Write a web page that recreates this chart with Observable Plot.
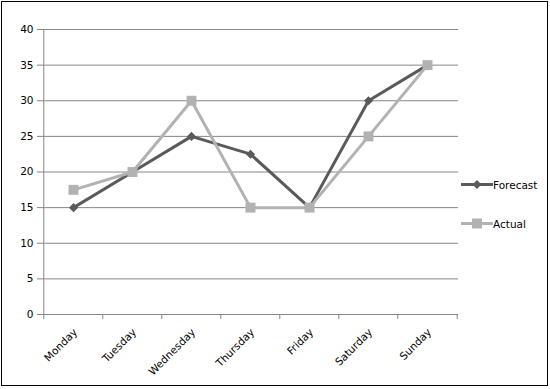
<!DOCTYPE html>
<html>
<head>
<meta charset="utf-8">
<script src="https://cdn.jsdelivr.net/npm/d3@7"></script>
<script src="https://cdn.jsdelivr.net/npm/@observablehq/plot@0.6"></script>
<style>
  html, body { margin: 0; padding: 0; background: #fff; }
  #wrap { position: relative; width: 550px; height: 389px; font-family: "DejaVu Sans", Verdana, sans-serif; -webkit-font-smoothing: antialiased; }
  #frame { position: absolute; left: 1px; top: 1px; width: 547px; height: 385px; box-sizing: border-box; border: 1px solid #000; pointer-events: none; }
  #chart { position: absolute; left: 0; top: 0; }
  .legend { position: absolute; left: 461px; font-size: 10.5px; color: #000; }
  .legend .item { position: absolute; left: 0; display: flex; align-items: center; white-space: nowrap; }
  .legend svg { display: block; margin-right: 0px; }
</style>
</head>
<body>
<div id="wrap">
  <div id="chart"></div>
  <div id="legend" class="legend"></div>
  <div id="frame"></div>
</div>
<script>
const days = ["Monday", "Tuesday", "Wednesday", "Thursday", "Friday", "Saturday", "Sunday"];
const forecast = [15, 20, 25, 22.5, 15, 30, 35];
const actual = [17.5, 20, 30, 15, 15, 25, 35];
const yTicks = [0, 5, 10, 15, 20, 25, 30, 35, 40];
const seriesNames = ["Forecast", "Actual"];
const seriesColors = ["#5a5a5a", "#b2b2b2"];

const forecastData = days.map((d, i) => ({day: d, series: "Forecast", value: forecast[i]}));
const actualData = days.map((d, i) => ({day: d, series: "Actual", value: actual[i]}));

const W = 550, H = 389, mL = 42, mR = 92, mT = 29, mB = 75;
const step = (W - mL - mR) / days.length;
const axisGray = "#868686";

const chart = Plot.plot({
  width: W, height: H,
  marginLeft: mL, marginRight: mR, marginTop: mT, marginBottom: mB,
  style: {fontFamily: "DejaVu Sans, Verdana, sans-serif", fontSize: "10.5px", color: "#000", background: "transparent", overflow: "visible"},
  x: {type: "point", domain: days, padding: 0.5, label: null},
  y: {domain: [0, 40], ticks: yTicks, label: null},
  color: {domain: seriesNames, range: seriesColors},
  marks: [
    Plot.gridY(yTicks, {stroke: axisGray, strokeOpacity: 1}),
    Plot.ruleY([0], {stroke: axisGray}),
    Plot.ruleX([days[0]], {dx: -step / 2, stroke: axisGray}),
    Plot.ruleX(days, {y1: 0, y2: 0, insetBottom: -5, dx: -step / 2, stroke: axisGray}),
    Plot.ruleX([days[days.length - 1]], {y1: 0, y2: 0, insetBottom: -5, dx: step / 2, stroke: axisGray}),
    Plot.axisY(yTicks, {tickSize: 5, tickPadding: 4, stroke: axisGray, label: null}),
    Plot.axisX({tickSize: 0, tickRotate: -45, tickPadding: 16, dx: 2, label: null}),
    Plot.line(forecastData, {x: "day", y: "value", stroke: "series", strokeWidth: 3}),
    Plot.dot(forecastData, {x: "day", y: "value", symbol: "diamond2", r: 4.1, fill: "series", stroke: "none"}),
    Plot.line(actualData, {x: "day", y: "value", stroke: "series", strokeWidth: 3}),
    Plot.dot(actualData, {x: "day", y: "value", symbol: "square", r: 5.6, fill: "series", stroke: "none"})
  ]
});
document.getElementById("chart").appendChild(chart);

// Legend
const legend = document.getElementById("legend");
const legendTops = [177, 216];
const markerShapes = ['<path d="M16,3 L20.5,7.5 L16,12 L11.5,7.5 Z"/>', '<rect x="11" y="2.5" width="10" height="10"/>'];
seriesNames.forEach((name, i) => {
  const item = document.createElement("div");
  item.className = "item";
  item.style.top = legendTops[i] + "px";
  item.innerHTML = `<svg width="32" height="15"><line x1="0" x2="32" y1="7.5" y2="7.5" stroke="${seriesColors[i]}" stroke-width="3"/><g fill="${seriesColors[i]}">${markerShapes[i]}</g></svg><span>${name}</span>`;
  legend.appendChild(item);
});
</script>
</body>
</html>
